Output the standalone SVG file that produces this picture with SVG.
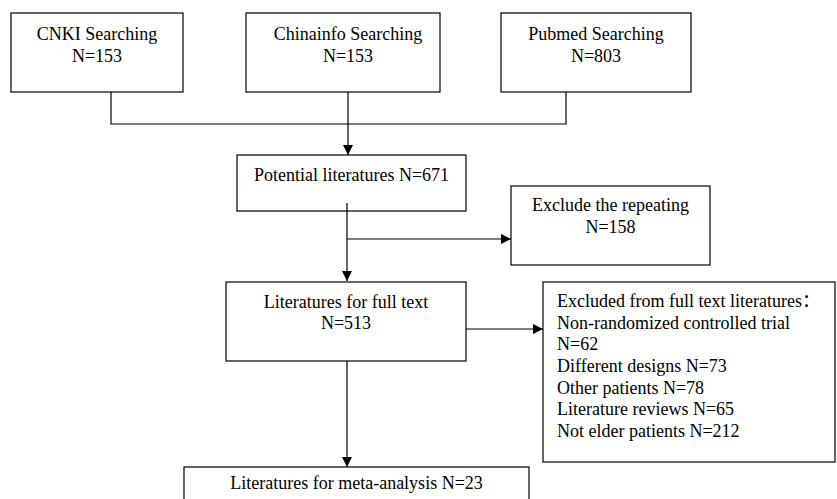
<svg xmlns="http://www.w3.org/2000/svg" width="837" height="499" viewBox="0 0 837 499">
<style>
.box{fill:#fff;stroke:#000;stroke-width:1.2}
.ln{fill:none;stroke:#000;stroke-width:1.2}
text{font-family:"Liberation Serif","Noto Sans CJK SC",serif;font-size:18px;fill:#000}
.c{text-anchor:middle}
</style>
<defs>
<marker id="ah" viewBox="0 0 10 10" refX="10" refY="5" markerWidth="10" markerHeight="10" markerUnits="userSpaceOnUse" orient="auto">
<path d="M0,0 L10,5 L0,10 Z" fill="#000"/>
</marker>
</defs>
<rect width="837" height="499" fill="#fff"/>
<g id="n-cnki"><rect class="box" x="11" y="13" width="172" height="79"/><text class="c" x="97" y="39.5">CNKI Searching</text><text class="c" x="97" y="61.5">N=153</text></g>
<g id="n-chinainfo"><rect class="box" x="246" y="13" width="194" height="79"/><text class="c" x="348" y="39.5">Chinainfo Searching</text><text class="c" x="348" y="61.5">N=153</text></g>
<g id="n-pubmed"><rect class="box" x="501" y="13" width="190" height="79"/><text class="c" x="596" y="39.5">Pubmed Searching</text><text class="c" x="596" y="61.5">N=803</text></g>
<g id="n-potential"><rect class="box" x="237" y="155" width="229" height="56"/><text class="c" x="351.5" y="181">Potential literatures N=671</text></g>
<g id="n-exclude"><rect class="box" x="511" y="186" width="199" height="79"/><text class="c" x="610.5" y="211">Exclude the repeating</text><text class="c" x="610.5" y="233">N=158</text></g>
<g id="n-fulltext"><rect class="box" x="226" y="282" width="240" height="79"/><text class="c" x="346" y="308">Literatures for full text</text><text class="c" x="346" y="329">N=513</text></g>
<g id="n-excluded"><rect class="box" x="543" y="282" width="292" height="180"/>
<text x="557" y="307">Excluded from full text literatures：</text>
<text x="557" y="329">Non-randomized controlled trial</text>
<text x="557" y="350">N=62</text>
<text x="557" y="372">Different designs N=73</text>
<text x="557" y="394">Other patients N=78</text>
<text x="557" y="415">Literature reviews N=65</text>
<text x="557" y="437">Not elder patients N=212</text></g>
<g id="n-meta"><rect class="box" x="184" y="467" width="345" height="40"/><text class="c" x="356.5" y="489">Literatures for meta-analysis N=23</text></g>
<g id="connectors">
<path class="ln" d="M111,92 V124 H566 V92"/>
<path class="ln" d="M348,92 V155" marker-end="url(#ah)"/>
<path class="ln" d="M347,203 V281" marker-end="url(#ah)"/>
<path class="ln" d="M347,239 H511" marker-end="url(#ah)"/>
<path class="ln" d="M466,329 H543" marker-end="url(#ah)"/>
<path class="ln" d="M347,361 V467" marker-end="url(#ah)"/>
</g>
</svg>
